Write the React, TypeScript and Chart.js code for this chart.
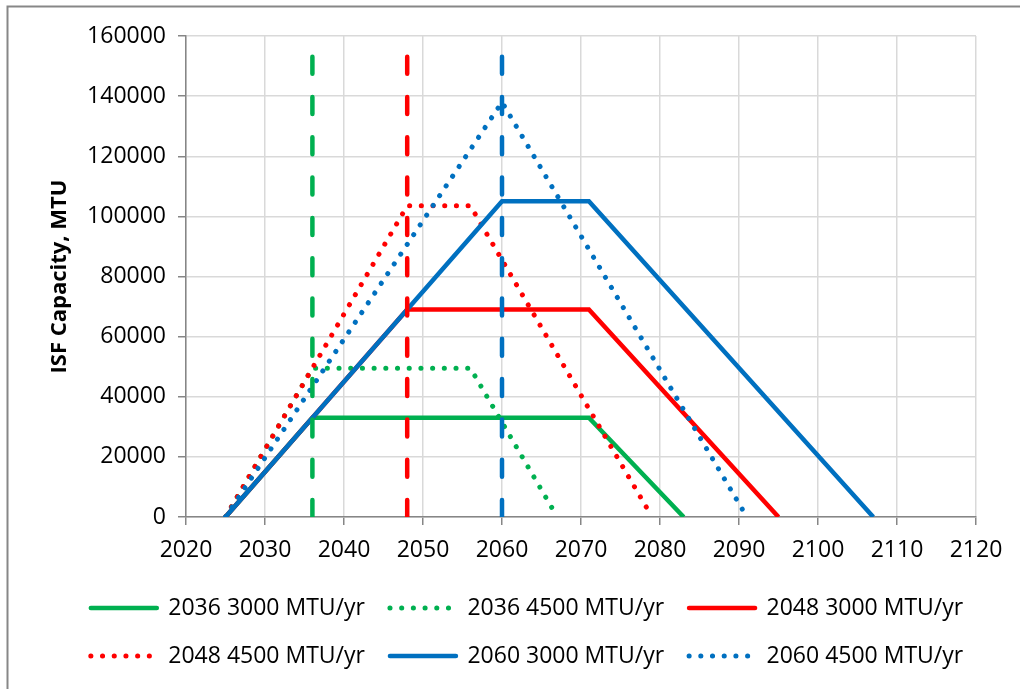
import React, { useEffect, useRef } from "react";
import { Chart, registerables } from "chart.js";

Chart.register(...registerables);

// ---------- data ----------
const seriesNames = [
  "2036 3000 MTU/yr",
  "2036 4500 MTU/yr",
  "2048 3000 MTU/yr",
  "2048 4500 MTU/yr",
  "2060 3000 MTU/yr",
  "2060 4500 MTU/yr",
];

const s2036r3000Years = [2025, 2036, 2071, 2083];
const s2036r3000Values = [0, 33000, 33000, 0];

const s2036r4500Years = [2025, 2036, 2056, 2067];
const s2036r4500Values = [0, 49500, 49500, 0];

const s2048r3000Years = [2025, 2048, 2071, 2095];
const s2048r3000Values = [0, 69000, 69000, 0];

const s2048r4500Years = [2025, 2048, 2056, 2079];
const s2048r4500Values = [0, 103500, 103500, 0];

const s2060r3000Years = [2025, 2060, 2071, 2107];
const s2060r3000Values = [0, 105000, 105000, 0];

const s2060r4500Years = [2025, 2060, 2091];
const s2060r4500Values = [0, 138000, 0];

const markerYears = [2036, 2048, 2060];
const markerValues = [0, 160000];

const xMin = 2020;
const xMax = 2120;
const xStep = 10;
const yMin = 0;
const yMax = 160000;
const yStep = 20000;

const yTitle = "ISF Capacity, MTU";

// ---------- styles ----------
const GREEN = "#00B050";
const RED = "#FF0000";
const BLUE = "#0070C0";
const FONT = "'Open Sans', 'Liberation Sans', sans-serif";

const toPoints = (xs: number[], ys: number[]) => xs.map((x, i) => ({ x, y: ys[i] }));

const solidStyle = { borderWidth: 4.5, borderDash: [] as number[], borderCapStyle: "butt" as const };
const dottedStyle = { borderWidth: 5, borderDash: [0.1, 11.6], borderCapStyle: "round" as const };
const dashedStyle = { borderWidth: 4.5, borderDash: [17, 23.3], borderCapStyle: "round" as const };

export default function App() {
  const canvasRef = useRef<HTMLCanvasElement | null>(null);

  useEffect(() => {
    document.body.style.margin = "0";
    const canvas = canvasRef.current;
    if (!canvas) return;

    const seriesData = [
      { xs: s2036r3000Years, ys: s2036r3000Values, color: GREEN, style: solidStyle },
      { xs: s2036r4500Years, ys: s2036r4500Values, color: GREEN, style: dottedStyle },
      { xs: s2048r3000Years, ys: s2048r3000Values, color: RED, style: solidStyle },
      { xs: s2048r4500Years, ys: s2048r4500Values, color: RED, style: dottedStyle },
      { xs: s2060r3000Years, ys: s2060r3000Values, color: BLUE, style: solidStyle },
      { xs: s2060r4500Years, ys: s2060r4500Values, color: BLUE, style: dottedStyle },
    ];
    const markerColors = [GREEN, RED, BLUE];

    const datasets: any[] = seriesData.map((s, i) => ({
      label: seriesNames[i],
      data: toPoints(s.xs, s.ys),
      borderColor: s.color,
      backgroundColor: s.color,
      borderWidth: s.style.borderWidth,
      borderDash: s.style.borderDash,
      borderCapStyle: s.style.borderCapStyle,
      borderJoinStyle: "miter",
      pointRadius: 0,
      pointHoverRadius: 0,
      fill: false,
      tension: 0,
      order: 100 - i,
    }));
    markerYears.forEach((yr, i) => {
      datasets.push({
        label: "marker " + yr,
        data: toPoints([yr, yr], markerValues),
        borderColor: markerColors[i],
        backgroundColor: markerColors[i],
        borderWidth: dashedStyle.borderWidth,
        borderDash: dashedStyle.borderDash,
        borderCapStyle: dashedStyle.borderCapStyle,
        pointRadius: 0,
        pointHoverRadius: 0,
        fill: false,
        tension: 0,
        order: 10 - i,
      });
    });

    const framePlugin = {
      id: "frame",
      beforeDraw(chart: any) {
        const ctx = chart.ctx;
        ctx.save();
        ctx.fillStyle = "#ffffff";
        ctx.fillRect(0, 0, chart.width, chart.height);
        ctx.strokeStyle = "#878787";
        ctx.lineWidth = 2;
        ctx.beginPath();
        ctx.moveTo(7.5, chart.height);
        ctx.lineTo(7.5, 6.5);
        ctx.lineTo(chart.width, 6.5);
        ctx.stroke();
        ctx.restore();
      },
    };

    const chart = new Chart(canvas, {
      type: "line",
      data: { datasets },
      plugins: [framePlugin],
      options: {
        responsive: false,
        animation: false,
        events: [],
        layout: { padding: { left: 34, right: 0, top: 36, bottom: 11.5 } },
        plugins: {
          tooltip: { enabled: false },
          title: { display: false },
          legend: {
            display: true,
            position: "bottom",
            align: "center",
            labels: {
              usePointStyle: true,
              pointStyle: "line",
              pointStyleWidth: 66,
              boxHeight: 10,
              padding: 25,
              color: "#000000",
              font: { family: FONT, size: 23 },
              generateLabels: (ch: any) =>
                ch.data.datasets.slice(0, seriesNames.length).map((ds: any, i: number) => ({
                  text: ds.label,
                  fillStyle: ds.borderColor,
                  strokeStyle: ds.borderColor,
                  lineWidth: ds.borderWidth,
                  lineDash: ds.borderDash,
                  lineCap: "round",
                  pointStyle: "line",
                  rotation: 0,
                  hidden: false,
                  datasetIndex: i,
                  fontColor: "#000000",
                })),
            },
          },
        },
        scales: {
          x: {
            type: "linear",
            min: xMin,
            max: xMax,
            afterFit: (scale: any) => {
              scale.height = 54.5;
              scale.paddingRight = 44;
            },
            ticks: {
              stepSize: xStep,
              color: "#000000",
              padding: 12,
              font: { family: FONT, size: 23 },
              callback: (v: any) => String(v),
              maxRotation: 0,
              autoSkip: false,
            },
            grid: {
              color: "#d9d9d9",
              lineWidth: 1.5,
              tickColor: "#868686",
              tickLength: 8,
              tickWidth: 1.5,
            },
            border: { color: "#868686", width: 1.5 },
          },
          y: {
            type: "linear",
            min: yMin,
            max: yMax,
            afterFit: (scale: any) => {
              scale.width = 152;
            },
            ticks: {
              stepSize: yStep,
              color: "#000000",
              padding: 12,
              font: { family: FONT, size: 23 },
              callback: (v: any) => String(v),
            },
            grid: {
              color: "#d9d9d9",
              lineWidth: 1.5,
              tickColor: "#868686",
              tickLength: 8,
              tickWidth: 1.5,
            },
            border: { color: "#868686", width: 1.5 },
            title: {
              display: true,
              text: yTitle,
              color: "#000000",
              font: { family: FONT, size: 22, weight: "bold" },
              padding: { top: 13, bottom: 0 },
            },
          },
        },
      } as any,
    });

    return () => chart.destroy();
  }, []);

  return (
    <div style={{ width: 1020, height: 689 }}>
      <canvas ref={canvasRef} width={1020} height={689} style={{ display: "block" }} />
    </div>
  );
}
